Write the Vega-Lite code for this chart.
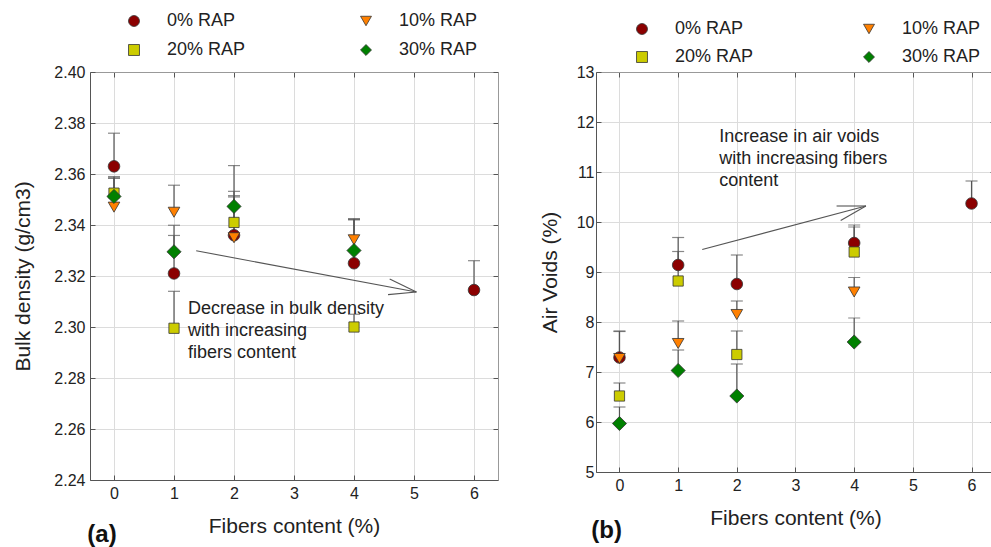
{
  "$schema": "https://vega.github.io/schema/vega-lite/v6.json",
  "background": "white",
  "padding": {"left": 12, "top": 12, "right": 0, "bottom": 0},
  "bounds": "flush",
  "spacing": 98,
  "config": {
    "font": "Liberation Sans",
    "view": {"stroke": null},
    "axis": {
      "labelFont": "Liberation Sans", "labelFontSize": 16, "labelColor": "#222",
      "titleFont": "Liberation Sans", "titleFontSize": 21, "titleFontWeight": "normal", "titleColor": "#222",
      "tickColor": "#555", "tickSize": -5, "domainColor": "#555", "gridColor": "#dcdcdc", "gridWidth": 1
    },
    "legend": {
      "labelFont": "Liberation Sans", "labelFontSize": 18, "labelColor": "#222",
      "symbolStrokeColor": "#333", "symbolStrokeWidth": 0.8, "symbolSize": 120
    }
  },
  "resolve": {"scale": {"color": "independent", "shape": "independent"}},
  "hconcat": [
    {
      "width": 408,
      "height": 408,
      "resolve": {"axis": {"x": "independent", "y": "independent"}},
      "layer": [
        {
          "data": {"name": "bulk", "values": [
            {"fiber": 0, "rap": "0% RAP", "v": 2.363, "top": 2.376},
            {"fiber": 0, "rap": "10% RAP", "v": 2.347, "top": 2.3583},
            {"fiber": 0, "rap": "20% RAP", "v": 2.3525, "top": 2.359},
            {"fiber": 0, "rap": "30% RAP", "v": 2.3512, "top": 2.3585},
            {"fiber": 1, "rap": "0% RAP", "v": 2.321, "top": 2.3359},
            {"fiber": 1, "rap": "10% RAP", "v": 2.345, "top": 2.3556},
            {"fiber": 1, "rap": "20% RAP", "v": 2.2995, "top": 2.314},
            {"fiber": 1, "rap": "30% RAP", "v": 2.3295, "top": 2.3399},
            {"fiber": 2, "rap": "0% RAP", "v": 2.336, "top": 2.3633},
            {"fiber": 2, "rap": "10% RAP", "v": 2.335, "top": 2.3515},
            {"fiber": 2, "rap": "20% RAP", "v": 2.341, "top": 2.351},
            {"fiber": 2, "rap": "30% RAP", "v": 2.3473, "top": 2.3532},
            {"fiber": 4, "rap": "0% RAP", "v": 2.325, "top": 2.342},
            {"fiber": 4, "rap": "10% RAP", "v": 2.3342, "top": 2.3422},
            {"fiber": 4, "rap": "20% RAP", "v": 2.3, "top": 2.305},
            {"fiber": 4, "rap": "30% RAP", "v": 2.33, "top": 2.3425},
            {"fiber": 6, "rap": "0% RAP", "v": 2.3145, "top": 2.326}
          ]},
          "mark": {"type": "rule", "color": "#555", "strokeWidth": 1.2},
          "encoding": {
            "x": {"field": "fiber", "type": "quantitative",
              "scale": {"domain": [-0.4, 6.4], "nice": false, "zero": false},
              "axis": {"orient": "bottom", "values": [0, 1, 2, 3, 4, 5, 6], "format": "d", "title": "Fibers content (%)", "labelPadding": 10, "titlePadding": 14}},
            "y": {"field": "v", "type": "quantitative",
              "scale": {"domain": [2.24, 2.4], "nice": false, "zero": false},
              "axis": {"orient": "left", "values": [2.24, 2.26, 2.28, 2.3, 2.32, 2.34, 2.36, 2.38, 2.4], "format": ".2f", "title": "Bulk density (g/cm3)", "labelPadding": 10, "titlePadding": 20}},
            "y2": {"field": "top"}
          }
        },
        {
          "data": {"name": "bulk"},
          "mark": {"type": "tick", "orient": "horizontal", "color": "#555", "size": 12, "thickness": 1.2},
          "encoding": {
            "x": {"field": "fiber", "type": "quantitative", "axis": null},
            "y": {"field": "top", "type": "quantitative", "axis": null}
          }
        },
        {
          "data": {"name": "bulk"},
          "transform": [{"filter": "datum.rap == '0% RAP' || datum.rap == '10% RAP'"}],
          "mark": {"type": "point", "filled": true, "opacity": 1, "stroke": "#333", "strokeWidth": 0.8, "size": 135},
          "encoding": {
            "x": {"field": "fiber", "type": "quantitative",
              "axis": {"orient": "top", "values": [0, 1, 2, 3, 4, 5, 6], "labels": false, "title": null, "grid": false, "domainColor": "#999"}},
            "y": {"field": "v", "type": "quantitative",
              "axis": {"orient": "right", "values": [2.24, 2.26, 2.28, 2.3, 2.32, 2.34, 2.36, 2.38, 2.4], "labels": false, "title": null, "grid": false, "domainColor": "#999"}},
            "color": {"field": "rap", "type": "nominal",
              "scale": {"domain": ["0% RAP", "10% RAP", "20% RAP", "30% RAP"], "range": ["#8B0000", "#FF8000", "#CCCC00", "#008000"]},
              "legend": {"title": null, "orient": "none", "direction": "horizontal", "legendX": 35, "legendY": -60, "columns": 2, "columnPadding": 111, "rowPadding": 11, "labelOffset": 24}},
            "shape": {"field": "rap", "type": "nominal",
              "scale": {"domain": ["0% RAP", "10% RAP", "20% RAP", "30% RAP"], "range": ["circle", "triangle-down", "square", "diamond"]},
              "legend": {"title": null, "orient": "none", "direction": "horizontal", "legendX": 35, "legendY": -60, "columns": 2, "columnPadding": 111, "rowPadding": 11, "labelOffset": 24}}
          }
        },
        {
          "data": {"name": "bulk"},
          "transform": [{"filter": "datum.rap == '20% RAP'"}],
          "mark": {"type": "point", "filled": true, "opacity": 1, "stroke": "#333", "strokeWidth": 0.8, "size": 105},
          "encoding": {
            "x": {"field": "fiber", "type": "quantitative", "axis": null},
            "y": {"field": "v", "type": "quantitative", "axis": null},
            "color": {"field": "rap", "type": "nominal"},
            "shape": {"field": "rap", "type": "nominal"}
          }
        },
        {
          "data": {"name": "bulk"},
          "transform": [{"filter": "datum.rap == '30% RAP'"}],
          "mark": {"type": "point", "filled": true, "opacity": 1, "stroke": "#333", "strokeWidth": 0.8, "size": 200},
          "encoding": {
            "x": {"field": "fiber", "type": "quantitative", "axis": null},
            "y": {"field": "v", "type": "quantitative", "axis": null},
            "color": {"field": "rap", "type": "nominal"},
            "shape": {"field": "rap", "type": "nominal"}
          }
        },
        {
          "data": {"values": [
            {"x": 1.37, "y": 2.3299, "x2": 5.04, "y2": 2.3137},
            {"x": 4.595, "y": 2.3188, "x2": 5.04, "y2": 2.3137},
            {"x": 4.567, "y": 2.3127, "x2": 5.04, "y2": 2.3137}
          ]},
          "mark": {"type": "rule", "color": "#555", "strokeWidth": 1.1},
          "encoding": {
            "x": {"field": "x", "type": "quantitative", "axis": null},
            "y": {"field": "y", "type": "quantitative", "axis": null},
            "x2": {"field": "x2"},
            "y2": {"field": "y2"}
          }
        },
        {
          "data": {"values": [{"x": 1.233, "y": 2.3107, "t": "Decrease in bulk density|with increasing|fibers content"}]},
          "mark": {"type": "text", "align": "left", "baseline": "top", "fontSize": 18, "lineHeight": 22, "lineBreak": "|", "color": "#222"},
          "encoding": {
            "x": {"field": "x", "type": "quantitative", "axis": null},
            "y": {"field": "y", "type": "quantitative", "axis": null},
            "text": {"field": "t"}
          }
        },
        {
          "data": {"values": [{"x": -0.2, "y": 2.2185, "t": "(a)"}]},
          "mark": {"type": "text", "align": "center", "baseline": "middle", "fontSize": 24, "fontWeight": "bold", "color": "#111"},
          "encoding": {
            "x": {"field": "x", "type": "quantitative", "axis": null},
            "y": {"field": "y", "type": "quantitative", "axis": null},
            "text": {"field": "t"}
          }
        }
      ]
    },
    {
      "width": 399,
      "height": 400,
      "resolve": {"axis": {"x": "independent", "y": "independent"}},
      "layer": [
        {
          "data": {"name": "voids", "values": [
            {"fiber": 0, "rap": "0% RAP", "v": 7.29, "top": 7.82},
            {"fiber": 0, "rap": "10% RAP", "v": 7.27, "top": 7.81},
            {"fiber": 0, "rap": "20% RAP", "v": 6.52, "top": 6.78},
            {"fiber": 0, "rap": "30% RAP", "v": 5.97, "top": 6.3},
            {"fiber": 1, "rap": "0% RAP", "v": 9.14, "top": 9.69},
            {"fiber": 1, "rap": "10% RAP", "v": 7.57, "top": 8.02},
            {"fiber": 1, "rap": "20% RAP", "v": 8.82, "top": 9.41},
            {"fiber": 1, "rap": "30% RAP", "v": 7.03, "top": 7.44},
            {"fiber": 2, "rap": "0% RAP", "v": 8.76, "top": 9.34},
            {"fiber": 2, "rap": "10% RAP", "v": 8.15, "top": 8.42},
            {"fiber": 2, "rap": "20% RAP", "v": 7.35, "top": 7.82},
            {"fiber": 2, "rap": "30% RAP", "v": 6.52, "top": 7.16},
            {"fiber": 4, "rap": "0% RAP", "v": 9.58, "top": 9.94},
            {"fiber": 4, "rap": "10% RAP", "v": 8.6, "top": 8.89},
            {"fiber": 4, "rap": "20% RAP", "v": 9.4, "top": 9.9},
            {"fiber": 4, "rap": "30% RAP", "v": 7.6, "top": 8.08},
            {"fiber": 6, "rap": "0% RAP", "v": 10.37, "top": 10.82}
          ]},
          "mark": {"type": "rule", "color": "#555", "strokeWidth": 1.2},
          "encoding": {
            "x": {"field": "fiber", "type": "quantitative",
              "scale": {"domain": [-0.4, 6.4], "nice": false, "zero": false},
              "axis": {"orient": "bottom", "values": [0, 1, 2, 3, 4, 5, 6], "format": "d", "title": "Fibers content (%)", "labelPadding": 10, "titlePadding": 14}},
            "y": {"field": "v", "type": "quantitative",
              "scale": {"domain": [5, 13], "nice": false, "zero": false},
              "axis": {"orient": "left", "values": [5, 6, 7, 8, 9, 10, 11, 12, 13], "format": "d", "title": "Air Voids (%)", "labelPadding": 7, "titlePadding": 16}},
            "y2": {"field": "top"}
          }
        },
        {
          "data": {"name": "voids"},
          "mark": {"type": "tick", "orient": "horizontal", "color": "#555", "size": 12, "thickness": 1.2},
          "encoding": {
            "x": {"field": "fiber", "type": "quantitative", "axis": null},
            "y": {"field": "top", "type": "quantitative", "axis": null}
          }
        },
        {
          "data": {"name": "voids"},
          "transform": [{"filter": "datum.rap == '0% RAP' || datum.rap == '10% RAP'"}],
          "mark": {"type": "point", "filled": true, "opacity": 1, "stroke": "#333", "strokeWidth": 0.8, "size": 135},
          "encoding": {
            "x": {"field": "fiber", "type": "quantitative",
              "axis": {"orient": "top", "values": [0, 1, 2, 3, 4, 5, 6], "labels": false, "title": null, "grid": false, "domainColor": "#999"}},
            "y": {"field": "v", "type": "quantitative",
              "axis": {"orient": "right", "values": [5, 6, 7, 8, 9, 10, 11, 12, 13], "labels": false, "title": null, "grid": false, "domainColor": "#999"}},
            "color": {"field": "rap", "type": "nominal",
              "scale": {"domain": ["0% RAP", "10% RAP", "20% RAP", "30% RAP"], "range": ["#8B0000", "#FF8000", "#CCCC00", "#008000"]},
              "legend": {"title": null, "orient": "none", "direction": "horizontal", "legendX": 37, "legendY": -52, "columns": 2, "columnPadding": 106, "rowPadding": 10, "labelOffset": 24}},
            "shape": {"field": "rap", "type": "nominal",
              "scale": {"domain": ["0% RAP", "10% RAP", "20% RAP", "30% RAP"], "range": ["circle", "triangle-down", "square", "diamond"]},
              "legend": {"title": null, "orient": "none", "direction": "horizontal", "legendX": 37, "legendY": -52, "columns": 2, "columnPadding": 106, "rowPadding": 10, "labelOffset": 24}}
          }
        },
        {
          "data": {"name": "voids"},
          "transform": [{"filter": "datum.rap == '20% RAP'"}],
          "mark": {"type": "point", "filled": true, "opacity": 1, "stroke": "#333", "strokeWidth": 0.8, "size": 105},
          "encoding": {
            "x": {"field": "fiber", "type": "quantitative", "axis": null},
            "y": {"field": "v", "type": "quantitative", "axis": null},
            "color": {"field": "rap", "type": "nominal"},
            "shape": {"field": "rap", "type": "nominal"}
          }
        },
        {
          "data": {"name": "voids"},
          "transform": [{"filter": "datum.rap == '30% RAP'"}],
          "mark": {"type": "point", "filled": true, "opacity": 1, "stroke": "#333", "strokeWidth": 0.8, "size": 200},
          "encoding": {
            "x": {"field": "fiber", "type": "quantitative", "axis": null},
            "y": {"field": "v", "type": "quantitative", "axis": null},
            "color": {"field": "rap", "type": "nominal"},
            "shape": {"field": "rap", "type": "nominal"}
          }
        },
        {
          "data": {"values": [
            {"x": 1.41, "y": 9.45, "x2": 4.2, "y2": 10.32},
            {"x": 3.7, "y": 10.32, "x2": 4.2, "y2": 10.32},
            {"x": 3.77, "y": 10.03, "x2": 4.2, "y2": 10.32}
          ]},
          "mark": {"type": "rule", "color": "#555", "strokeWidth": 1.1},
          "encoding": {
            "x": {"field": "x", "type": "quantitative", "axis": null},
            "y": {"field": "y", "type": "quantitative", "axis": null},
            "x2": {"field": "x2"},
            "y2": {"field": "y2"}
          }
        },
        {
          "data": {"values": [{"x": 1.7, "y": 11.886, "t": "Increase in air voids|with increasing fibers|\u00a0content"}]},
          "mark": {"type": "text", "align": "left", "baseline": "top", "fontSize": 18, "lineHeight": 22, "lineBreak": "|", "color": "#222"},
          "encoding": {
            "x": {"field": "x", "type": "quantitative", "axis": null},
            "y": {"field": "y", "type": "quantitative", "axis": null},
            "text": {"field": "t"}
          }
        },
        {
          "data": {"values": [{"x": -0.22, "y": 3.82, "t": "(b)"}]},
          "mark": {"type": "text", "align": "center", "baseline": "middle", "fontSize": 24, "fontWeight": "bold", "color": "#111"},
          "encoding": {
            "x": {"field": "x", "type": "quantitative", "axis": null},
            "y": {"field": "y", "type": "quantitative", "axis": null},
            "text": {"field": "t"}
          }
        }
      ]
    }
  ]
}
